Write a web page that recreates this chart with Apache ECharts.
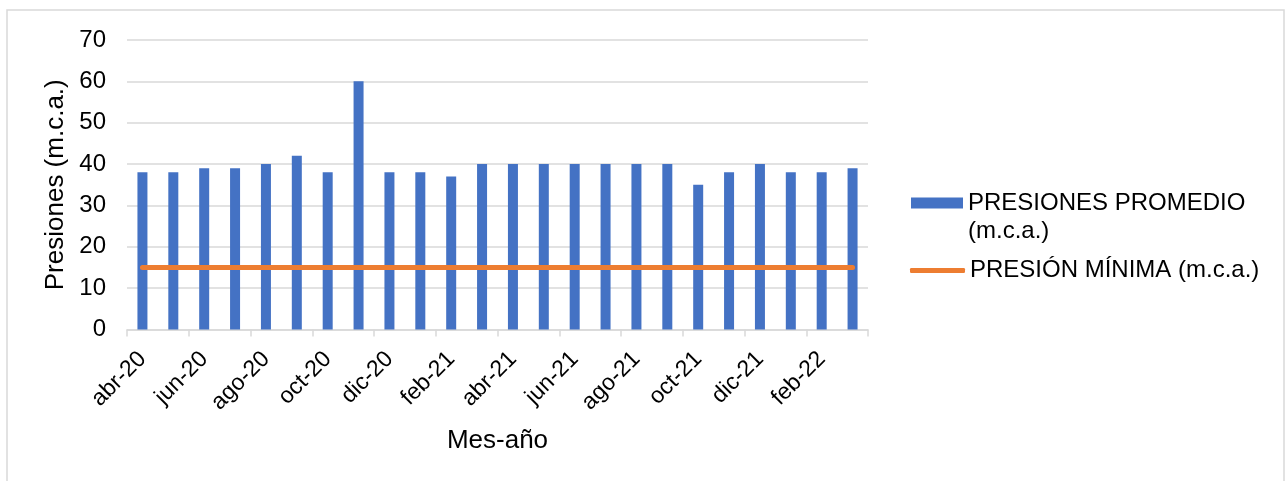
<!DOCTYPE html>
<html>
<head>
<meta charset="utf-8">
<script src="https://cdn.jsdelivr.net/npm/echarts@6/dist/echarts.min.js"></script>
<style>
html,body{margin:0;padding:0;background:#fff;}
#chart{width:1288px;height:481px;}
</style>
</head>
<body>
<div id="chart"></div>
<script>
var categories = ['abr-20','may-20','jun-20','jul-20','ago-20','sep-20','oct-20','nov-20','dic-20','ene-21','feb-21','mar-21','abr-21','may-21','jun-21','jul-21','ago-21','sep-21','oct-21','nov-21','dic-21','ene-22','feb-22','mar-22'];
var presionesPromedio = [38,38,39,39,40,42,38,60,38,38,37,40,40,40,40,40,40,40,35,38,40,38,38,39];
var presionMinima = [15,15,15,15,15,15,15,15,15,15,15,15,15,15,15,15,15,15,15,15,15,15,15,15];
var nameBar = 'PRESIONES PROMEDIO (m.c.a.)';
var nameLine = 'PRESIÓN MÍNIMA (m.c.a.)';

var FONT = 'Liberation Sans, Arial, sans-serif';
var chart = echarts.init(document.getElementById('chart'), null, {renderer: 'canvas'});
chart.setOption({
  backgroundColor: '#fff',
  animation: false,
  textStyle: {fontFamily: FONT},
  graphic: [{
    type: 'rect', silent: true, z: -10,
    shape: {x: 7, y: 10, width: 1277, height: 490},
    style: {fill: 'none', stroke: '#d9d9d9', lineWidth: 1.5}
  }],
  grid: {left: 127, right: 420, top: 40, bottom: 151.5, containLabel: false},
  legend: [{
    data: [nameBar],
    left: 911, top: 161,
    padding: 0,
    itemWidth: 52, itemHeight: 11, itemGap: 0,
    icon: 'rect',
    formatter: function(){ return '\nPRESIONES PROMEDIO\n(m.c.a.)'; },
    textStyle: {fontFamily: FONT, fontSize: 24, color: '#000', lineHeight: 28},
    selectedMode: false
  },{
    data: [nameLine],
    left: 910, top: 256.5,
    padding: 0,
    itemWidth: 55, itemHeight: 5,
    icon: 'roundRect',
    textGap: 2,
    textStyle: {fontFamily: FONT, fontSize: 24, color: '#000', lineHeight: 28},
    selectedMode: false
  }],
  xAxis: {
    type: 'category',
    data: categories,
    boundaryGap: true,
    name: 'Mes-año',
    nameLocation: 'middle',
    nameGap: 98,
    nameTextStyle: {fontFamily: FONT, fontSize: 26, color: '#000'},
    axisLine: {show: true, lineStyle: {color: '#d9d9d9', width: 1.5}},
    axisTick: {show: true, interval: 1, length: 7, lineStyle: {color: '#d9d9d9', width: 1.5}},
    axisLabel: {interval: 1, rotate: 45, fontFamily: FONT, fontSize: 23, color: '#000', margin: 26},
    splitLine: {show: false}
  },
  yAxis: {
    type: 'value',
    min: 0, max: 70, interval: 10,
    name: 'Presiones (m.c.a.)',
    nameLocation: 'middle',
    nameGap: 57,
    nameTextStyle: {fontFamily: FONT, fontSize: 26, color: '#000'},
    axisLine: {show: false},
    axisTick: {show: false},
    axisLabel: {fontFamily: FONT, fontSize: 24, color: '#000', margin: 21},
    splitLine: {show: true, lineStyle: {color: '#d9d9d9', width: 1.5}}
  },
  series: [{
    name: nameBar,
    type: 'bar',
    data: presionesPromedio,
    barWidth: 10,
    itemStyle: {color: '#4472C4'},
    z: 2
  },{
    name: nameLine,
    type: 'line',
    data: presionMinima,
    symbol: 'none',
    lineStyle: {color: '#ED7D31', width: 5, cap: 'round'},
    itemStyle: {color: '#ED7D31'},
    z: 3
  }]
});
</script>
</body>
</html>
